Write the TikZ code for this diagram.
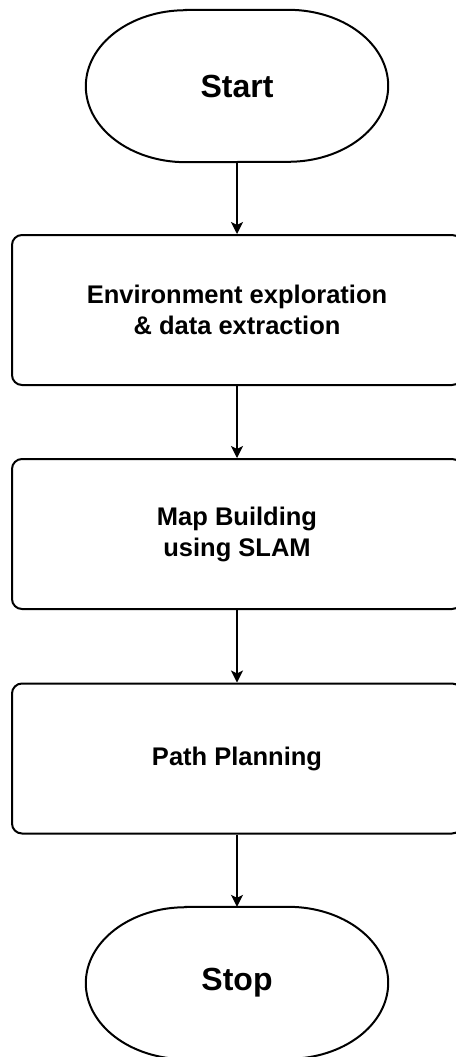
\documentclass[tikz,border=0pt]{standalone}
\usepackage{fontspec}
\setmainfont{Liberation Sans}
\usetikzlibrary{arrows.meta,calc}

\tikzset{
  outline/.style={line width=2pt, draw=black},
  label text/.style={font=\bfseries\fontsize{25.5}{31}\selectfont, align=center},
  terminal/.style={minimum width=302pt, minimum height=152pt, inner sep=0pt,
    font=\bfseries\fontsize{32}{38}\selectfont},
  process/.style={outline, rounded corners=10pt, minimum width=450pt,
    minimum height=150pt, inner sep=0pt, label text},
  flow/.style={line width=1.3pt, -{Stealth[length=12pt, width=12pt, inset=3pt]}},
}

\begin{document}
\begin{tikzpicture}[x=1pt, y=-1pt]
  \useasboundingbox (0,0) rectangle (455,1057);

  % terminals (text holders; outlines drawn below)
  \node[terminal] (start) at (237,86) {Start};
  \node[terminal] (stop)  at (237,983) {Stop};

  % stadium outlines with elliptical ends
  \foreach \t in {start,stop}{
    \draw[outline] ($(\t.north west)+(100,0)$) -- ($(\t.north east)+(-100,0)$)
      arc[start angle=90, end angle=-90, x radius=100pt, y radius=76pt]
      -- ($(\t.south west)+(100,0)$)
      arc[start angle=270, end angle=90, x radius=100pt, y radius=76pt]
      -- cycle;
  }

  % process steps
  \node[process] (env)  at (237,310)   {Environment exploration\\\& data extraction};
  \node[process] (map)  at (237,534)   {Map Building\\using SLAM};
  \node[process] (path) at (237,758.5) {Path Planning};

  % connectors
  \draw[flow] (start.south) -- (env.north);
  \draw[flow] (env.south)   -- (map.north);
  \draw[flow] (map.south)   -- (path.north);
  \draw[flow] (path.south)  -- (stop.north);
\end{tikzpicture}
\end{document}
